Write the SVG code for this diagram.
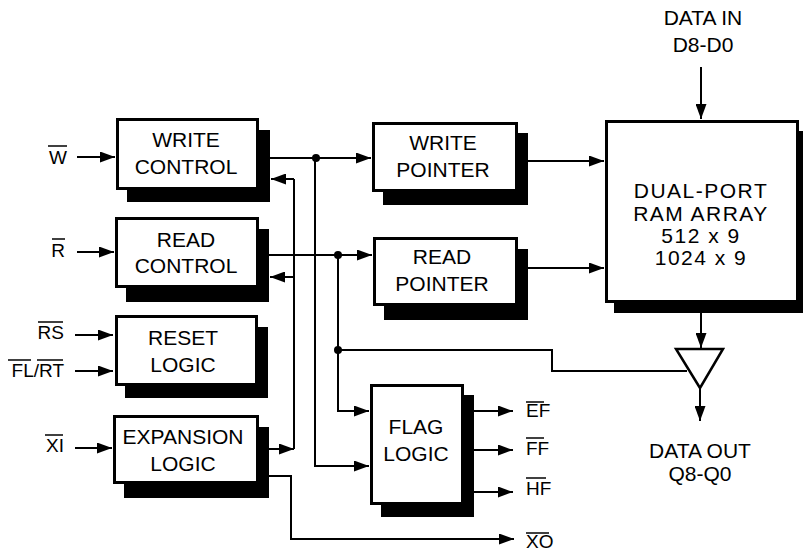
<svg xmlns="http://www.w3.org/2000/svg" width="803" height="551" viewBox="0 0 803 551">
<style>
text{font-family:"Liberation Sans",Arial,Helvetica,sans-serif;fill:#000}
.bt{font-size:21px;text-anchor:middle}
.ram{font-size:21px;letter-spacing:1.5px;text-anchor:middle}
.pin{font-size:19px}
.pr{text-anchor:end}
.io{font-size:21px;text-anchor:middle}
.box{fill:#fff;stroke:#000;stroke-width:3}
.sh{fill:#000}
.ln{fill:none;stroke:#000;stroke-width:2}
.ov{stroke:#000;stroke-width:1.5}
</style>
<defs>
<marker id="ah" markerUnits="userSpaceOnUse" markerWidth="15" markerHeight="11" refX="15" refY="5.5" orient="auto">
<path d="M0,0 L15,5.5 L0,11 z" fill="#000"/>
</marker>
</defs>

<g id="connectors">
<line class="ln" x1="77" y1="157" x2="115" y2="157" marker-end="url(#ah)"/>
<line class="ln" x1="77" y1="252" x2="114" y2="252" marker-end="url(#ah)"/>
<line class="ln" x1="75" y1="335" x2="113" y2="335" marker-end="url(#ah)"/>
<line class="ln" x1="75" y1="371" x2="113" y2="371" marker-end="url(#ah)"/>
<line class="ln" x1="75" y1="448" x2="112" y2="448" marker-end="url(#ah)"/>
<line class="ln" x1="270" y1="158" x2="371" y2="158" marker-end="url(#ah)"/>
<circle cx="316" cy="158" r="4"/>
<polyline class="ln" points="315,158 315,466 369,466" marker-end="url(#ah)"/>
<line class="ln" x1="269" y1="255" x2="372" y2="255" marker-end="url(#ah)"/>
<circle cx="338" cy="255" r="4"/>
<polyline class="ln" points="338,255 338,411 369,411" marker-end="url(#ah)"/>
<circle cx="338" cy="350" r="4"/>
<polyline class="ln" points="338,350 552,350 552,371 687,371"/>
<line class="ln" x1="528" y1="161" x2="604" y2="161" marker-end="url(#ah)"/>
<line class="ln" x1="528" y1="268" x2="604" y2="268" marker-end="url(#ah)"/>
<line class="ln" x1="701" y1="67" x2="701" y2="119" marker-end="url(#ah)"/>
<line class="ln" x1="701" y1="313" x2="701" y2="348" marker-end="url(#ah)"/>
<line class="ln" x1="700" y1="388" x2="700" y2="421" marker-end="url(#ah)"/>
<line class="ln" x1="269" y1="449" x2="294" y2="449" marker-end="url(#ah)"/>
<line class="ln" x1="294" y1="449" x2="294" y2="179"/>
<line class="ln" x1="294" y1="179" x2="271" y2="179" marker-end="url(#ah)"/>
<line class="ln" x1="294" y1="277" x2="270" y2="277" marker-end="url(#ah)"/>
<polyline class="ln" points="269,476 291,476 291,539 514,539" marker-end="url(#ah)"/>
<line class="ln" x1="474" y1="411" x2="513" y2="411" marker-end="url(#ah)"/>
<line class="ln" x1="474" y1="450" x2="513" y2="450" marker-end="url(#ah)"/>
<line class="ln" x1="474" y1="492" x2="513" y2="492" marker-end="url(#ah)"/>
</g>

<g id="write-control">
<rect class="sh" x="127" y="130" width="143" height="72"/>
<rect class="box" x="117.5" y="119.5" width="140" height="69"/>
<text class="bt" x="186" y="147">WRITE</text>
<text class="bt" x="186" y="174">CONTROL</text>
</g>
<g id="read-control">
<rect class="sh" x="126" y="229" width="143" height="73"/>
<rect class="box" x="116.5" y="218.5" width="141" height="68"/>
<text class="bt" x="186" y="247">READ</text>
<text class="bt" x="186" y="273">CONTROL</text>
</g>
<g id="reset-logic">
<rect class="sh" x="125" y="327" width="143" height="71"/>
<rect class="box" x="116.5" y="316.5" width="140" height="68"/>
<text class="bt" x="183" y="345">RESET</text>
<text class="bt" x="183" y="372">LOGIC</text>
</g>
<g id="expansion-logic">
<rect class="sh" x="124" y="427" width="145" height="71"/>
<rect class="box" x="114.5" y="416.5" width="143" height="66"/>
<text class="bt" x="183" y="444">EXPANSION</text>
<text class="bt" x="183" y="471">LOGIC</text>
</g>
<g id="write-pointer">
<rect class="sh" x="383" y="133" width="145" height="72"/>
<rect class="box" x="373.5" y="123.5" width="143" height="67"/>
<text class="bt" x="443" y="150">WRITE</text>
<text class="bt" x="443" y="177">POINTER</text>
</g>
<g id="read-pointer">
<rect class="sh" x="384" y="249" width="144" height="71"/>
<rect class="box" x="374.5" y="238.5" width="142" height="66"/>
<text class="bt" x="442" y="264">READ</text>
<text class="bt" x="442" y="291">POINTER</text>
</g>
<g id="flag-logic">
<rect class="sh" x="381" y="395" width="93" height="122"/>
<rect class="box" x="371.5" y="385.5" width="91" height="118"/>
<text class="bt" x="416" y="434">FLAG</text>
<text class="bt" x="416" y="461">LOGIC</text>
</g>
<g id="ram-array">
<rect class="sh" x="614" y="131" width="189" height="182"/>
<rect class="box" x="606.5" y="121.5" width="191" height="180"/>
<text class="ram" x="701" y="198">DUAL-PORT</text>
<text class="ram" x="701" y="221">RAM ARRAY</text>
<text class="ram" x="701" y="243">512 x 9</text>
<text class="ram" x="701" y="265">1024 x 9</text>
</g>
<g id="output-buffer">
<polygon points="676,349 723,349 700,388" fill="#fff" stroke="#000" stroke-width="2.5" stroke-linejoin="miter"/>
</g>

<g id="data-in">
<text class="io" x="703" y="25">DATA IN</text>
<text class="io" x="703" y="52">D8-D0</text>
</g>
<g id="data-out">
<text class="io" x="700" y="458">DATA OUT</text>
<text class="io" x="700" y="481">Q8-Q0</text>
</g>

<g id="pin-labels">
<text class="pin pr" x="67" y="164">W</text>
<line class="ov" x1="48" y1="146" x2="67" y2="146"/>
<text class="pin pr" x="65" y="257">R</text>
<line class="ov" x1="52" y1="239" x2="65" y2="239"/>
<text class="pin pr" x="64" y="339">RS</text>
<line class="ov" x1="38" y1="322" x2="63" y2="322"/>
<text class="pin pr" x="64" y="377">FL/RT</text>
<line class="ov" x1="8" y1="360" x2="31" y2="360"/>
<line class="ov" x1="37" y1="360" x2="63" y2="360"/>
<text class="pin pr" x="64" y="452">XI</text>
<line class="ov" x1="45" y1="435" x2="63" y2="435"/>
<text class="pin" x="526" y="417">EF</text>
<line class="ov" x1="526" y1="402" x2="544" y2="402"/>
<text class="pin" x="526" y="455">FF</text>
<line class="ov" x1="526" y1="438" x2="544" y2="438"/>
<text class="pin" x="526" y="495">HF</text>
<line class="ov" x1="526" y1="478" x2="546" y2="478"/>
<text class="pin" x="526" y="548">XO</text>
<line class="ov" x1="526" y1="533" x2="549" y2="533"/>
</g>
</svg>
